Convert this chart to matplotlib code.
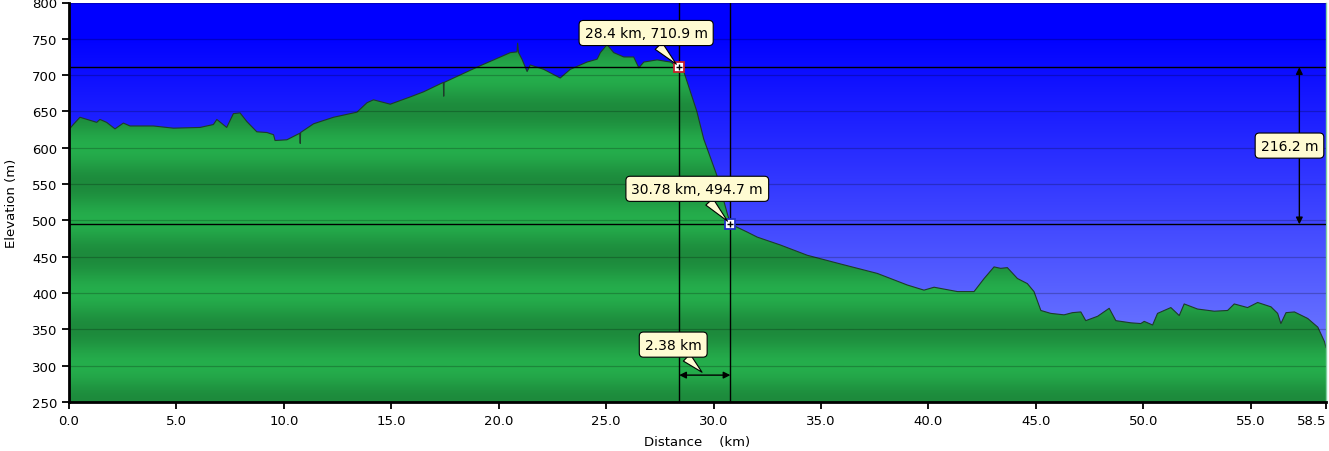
import numpy as np
import matplotlib.pyplot as plt
from matplotlib.colors import LinearSegmentedColormap
from matplotlib.patches import Polygon

# elevation profile
dist_km = [0.0, 0.17, 0.51, 1.29, 1.44, 1.75, 2.14, 2.53, 2.84, 3.93, 4.86, 6.10,
           6.72, 6.88, 7.34, 7.65, 7.96, 8.28, 8.74, 9.21, 9.52, 9.59, 10.14,
           10.74, 10.76, 10.78, 11.38, 12.31, 13.40, 13.87, 14.17, 14.95, 15.88,
           16.50, 17.42, 17.44, 17.46, 18.99, 20.54, 20.85, 20.88, 20.92, 21.08,
           21.32, 21.47, 22.09, 22.86, 23.33, 24.11, 24.58, 24.73, 25.04, 25.35,
           25.82, 26.28, 26.52, 26.75, 27.37, 27.99, 28.40, 28.60, 29.22, 29.54,
           30.09, 30.15, 30.62, 30.78, 31.56, 32.03, 33.12, 34.36, 35.91, 37.62,
           39.02, 39.79, 40.26, 41.35, 42.12, 42.59, 43.05, 43.36, 43.67, 44.14,
           44.60, 44.91, 45.23, 45.69, 46.31, 46.70, 47.09, 47.32, 47.87, 48.41,
           48.72, 49.42, 49.88, 50.04, 50.43, 50.66, 51.28, 51.67, 51.90, 52.52,
           53.30, 53.92, 54.23, 54.85, 55.32, 55.94, 56.25, 56.40, 56.64, 57.03,
           57.65, 58.12, 58.43, 58.50]
elev_m = [625, 631, 642, 635, 639, 635, 626, 634, 630, 630, 627, 628,
          632, 639, 628, 647, 648, 636, 622, 621, 618, 610, 611,
          620, 606, 621, 633, 642, 649, 662, 666, 660, 670,
          677, 690, 671, 690, 711, 731, 732, 744, 731, 722,
          705, 714, 708, 696, 708, 718, 722, 731, 742, 731,
          725, 725, 710, 718, 721, 718, 711, 706, 650, 612,
          567, 562, 511, 495, 484, 477, 466, 452, 440, 427,
          411, 404, 408, 402, 402, 420, 436, 434, 435, 420,
          413, 402, 376, 372, 370, 373, 374, 362, 368, 379,
          362, 359, 358, 361, 356, 372, 380, 369, 385, 378,
          375, 376, 385, 380, 387, 381, 372, 358, 373, 374,
          365, 353, 333, 325]

pt_a = (28.4, 710.9)
pt_b = (30.78, 494.7)
label_a = "28.4 km, 710.9 m"
label_b = "30.78 km, 494.7 m"
label_dh = "216.2 m"
label_dx = "2.38 km"

x_ticks = [0, 5, 10, 15, 20, 25, 30, 35, 40, 45, 50, 55, 58.5]
y_ticks = list(range(250, 801, 50))

x0, x1 = 0, 58.5
y0, y1 = 250, 800

fig = plt.figure(figsize=(13.29, 4.52), dpi=100)
ax = fig.add_axes([69 / 1329, 49 / 452, 1257 / 1329, 399.5 / 452])
ax.set_xlim(x0, x1)
ax.set_ylim(y0, y1)

# sky gradient
sky = np.linspace(0, 1, 256).reshape(-1, 1)
sky_cmap = LinearSegmentedColormap.from_list(
    "sky", [(0, "#0000ff"), (0.08, "#0000ff"), (1, "#7f8cff")])
ax.imshow(sky, cmap=sky_cmap, extent=[x0, x1, y0, y1], aspect="auto",
          origin="upper", zorder=0)

# banded green ground, clipped to the profile
levels = np.linspace(y0, y1, 600).reshape(-1, 1)
band = 0.5 + 0.5 * np.cos(2 * np.pi * (levels - 300) / 100)
green_cmap = LinearSegmentedColormap.from_list("ground", ["#1d8a3c", "#25ae4c"])
im = ax.imshow(band, cmap=green_cmap, extent=[x0, x1, y0, y1], aspect="auto",
               origin="lower", zorder=1)
verts = [(dist_km[0], y0)] + list(zip(dist_km, elev_m)) + [(dist_km[-1], y0)]
ground = Polygon(verts, closed=True, facecolor="none", edgecolor="none")
ax.add_patch(ground)
im.set_clip_path(ground)
ax.plot(dist_km, elev_m, color="#1e3b2a", lw=0.8, zorder=2)

for y in y_ticks:
    ax.axhline(y, color="black", alpha=0.22, lw=0.9, zorder=3)

# cross hairs
for x in (pt_a[0], pt_b[0]):
    ax.axvline(x, color="black", lw=1, zorder=4)
for y in (pt_a[1], pt_b[1]):
    ax.axhline(y, color="black", lw=1, zorder=4)

ax.plot(*pt_a, marker="s", ms=7, mfc="white", mec="#c8202a", mew=1.3, zorder=6)
ax.plot(*pt_b, marker="s", ms=7, mfc="white", mec="#2030c8", mew=1.3, zorder=6)
ax.plot([pt_a[0], pt_b[0]], [pt_a[1], pt_b[1]], ls="none", marker="+",
        ms=5, mec="black", mew=1, zorder=7)

box = dict(boxstyle="round,pad=0.4,rounding_size=0.3", fc="#fffbd2", ec="black", lw=0.8)
wedge = dict(arrowstyle="wedge,tail_width=0.7,shrink_factor=0.5", fc="#fffbd2",
             ec="black", lw=0.8, shrinkA=0, shrinkB=3)
txt = dict(fontsize=10, ha="center", va="center", zorder=8)

ax.annotate(label_a, xy=pt_a, xytext=(26.86, 758), bbox=box, arrowprops=wedge, **txt)
ax.annotate(label_b, xy=pt_b, xytext=(29.24, 543.5), bbox=box, arrowprops=wedge, **txt)

# height difference arrow
dh_x = 57.26
ax.annotate("", xy=(dh_x, pt_b[1]), xytext=(dh_x, pt_a[1]),
            arrowprops=dict(arrowstyle="<|-|>", color="black", lw=1,
                            shrinkA=0, shrinkB=0, mutation_scale=10), zorder=8)
ax.text(56.8, 603, label_dh, bbox=box, **txt)

# distance arrow
dx_y = 287
ax.annotate("", xy=(pt_b[0], dx_y), xytext=(pt_a[0], dx_y),
            arrowprops=dict(arrowstyle="<|-|>", color="black", lw=1,
                            shrinkA=0, shrinkB=0, mutation_scale=10), zorder=8)
ax.annotate(label_dx, xy=(29.6, dx_y), xytext=(28.12, 329), bbox=box,
            arrowprops=wedge, **txt)

ax.set_xticks(x_ticks, labels=[f"{v:.1f}" for v in x_ticks])
ax.get_xticklabels()[-1].set_horizontalalignment("right")
ax.set_yticks(y_ticks)
ax.tick_params(direction="out", length=5, width=1.3, labelsize=9.5, colors="black")
for side in ("left", "bottom"):
    ax.spines[side].set_linewidth(2)
ax.spines["top"].set_visible(False)
ax.spines["right"].set_color("#7fd0a0")
ax.spines["right"].set_linewidth(1)

ax.set_xlabel("Distance    (km)", fontsize=9.5, labelpad=6)
ax.set_ylabel("Elevation (m)", fontsize=9.5, labelpad=10)

fig.savefig("out.png", dpi=100)
